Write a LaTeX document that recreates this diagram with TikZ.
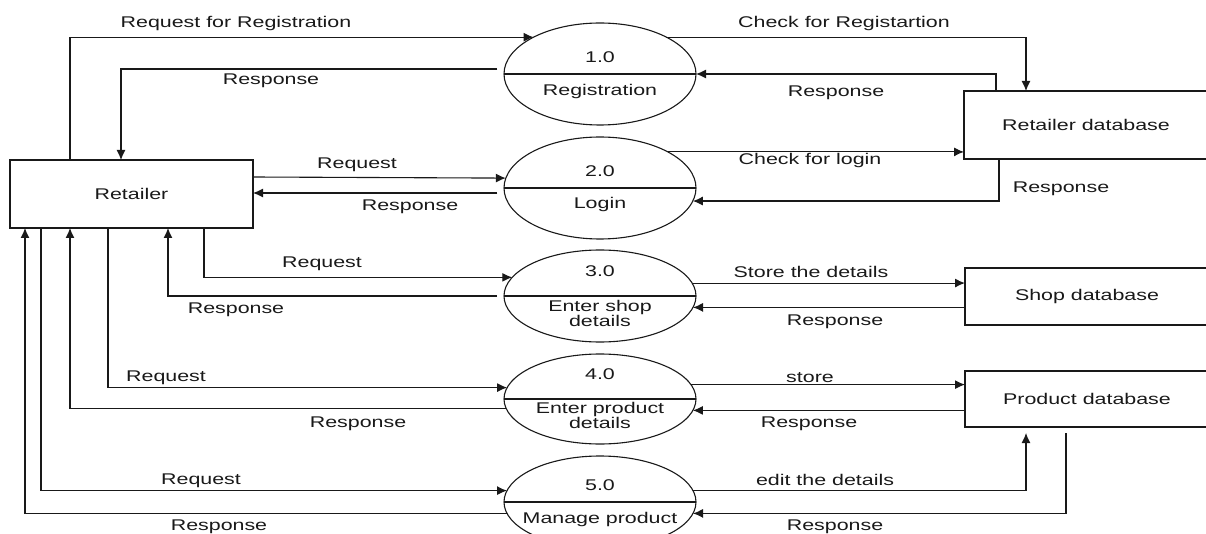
\documentclass[tikz,border=0pt]{standalone}
\usepackage{fontspec}
\setmainfont[FakeStretch=1.38]{Liberation Sans}
\usetikzlibrary{positioning, shapes.geometric, arrows.meta}

\begin{document}
\begin{tikzpicture}[x = 1pt, y = -1pt, font = \fontsize{15.5}{15}\selectfont,
                line width = 1.1pt, color = black!90,
                >= {Latex[length = 10pt, width = 9pt]},
                entity/.style = {shape = rectangle, draw = black!90, minimum width = 244pt, inner sep = 0pt, outer sep = 0pt},
                process/.style = {shape = ellipse, draw = black!90, minimum width = 192pt, inner sep = 0pt, outer sep = 0pt,
                    path picture = {\draw (path picture bounding box.west) -- (path picture bounding box.east);}},
                flow/.style = {anchor = base}]
                \useasboundingbox (0, 0) rectangle (1206, 534);
                \clip (0, 0) rectangle (1206, 534);

                \node [entity, minimum width = 243pt, minimum height = 68pt] (retailer) at (131.5, 194) {Retailer};
                \node [entity, minimum height = 68pt] (rdb) at (1086, 125) {Retailer database};
                \node [entity, minimum height = 57pt] (sdb) at (1087, 296.5) {Shop database};
                \node [entity, minimum height = 56pt] (pdb) at (1087, 399) {Product database};

                \node [process, minimum height = 102pt] (p1) at (600, 74) {};
                \node [process, minimum height = 102pt] (p2) at (600, 188) {};
                \node [process, minimum height = 92pt] (p3) at (600, 296) {};
                \node [process, minimum height = 90pt] (p4) at (600, 399) {};
                \node [process, minimum height = 92pt] (p5) at (600, 502) {};

                \node [flow] (n1) at (600, 63) {1.0};
                \node [flow] (t1) at (600, 96) {Registration};
                \node [flow] (n2) at (600, 177) {2.0};
                \node [flow] (t2) at (600, 209) {Login};
                \node [flow] (n3) at (600, 277) {3.0};
                \node [flow, align = center] (t3) at (600, 326) {Enter shop\\details};
                \node [flow] (n4) at (600, 379) {4.0};
                \node [flow, align = center] (t4) at (600, 428) {Enter product\\details};
                \node [flow] (n5) at (600, 490) {5.0};
                \node [flow] (t5) at (600, 523) {Manage product};

                \draw [->] ([xshift = 60pt]retailer.north west) |- (p1.151);
                \draw [->] ([xshift = -7pt]p1.177) -| ([xshift = 111pt]retailer.north west);
                \draw [->] (p1.29) -| ([xshift = 62pt]rdb.north west);
                \draw [->] ([xshift = 32pt]rdb.north west) |- (p1.east);

                \draw [->] ([yshift = 17pt]retailer.east) -- (p2.174);
                \draw [->] ([xshift = -7pt]p2.183) -- (retailer.east |- p2.183);
                \draw [->] (p2.28) -- (rdb.west |- p2.28);
                \draw [->] ([xshift = 35pt]rdb.south west) |- (p2.-8);

                \draw [->] ([xshift = 194pt]retailer.south west) |- (p3.168);
                \draw [->] ([xshift = -7pt]p3.west) -| ([xshift = 158pt]retailer.south west);
                \draw [->] (p3.8) -- (sdb.west |- p3.8);
                \draw [->] (sdb.west |- p3.-7) -- (p3.-7);

                \draw [->] ([xshift = 98pt]retailer.south west) |- (p4.173);
                \draw [->] (p4.186) -| ([xshift = 60pt]retailer.south west);
                \draw [->] (p4.9) -- (pdb.west |- p4.9);
                \draw [->] (pdb.west |- p4.-7) -- (p4.-7);

                \draw [->] ([xshift = 31pt]retailer.south west) |- (p5.173);
                \draw [->] (p5.187) -| ([xshift = 15pt]retailer.south west);
                \draw [->] (p5.7) -| ([xshift = 61pt, yshift = -6pt]pdb.south west);
                \draw [->] ([xshift = 101pt, yshift = -6pt]pdb.south west) |- (p5.-7);

                \node [flow] (q1) at (236, 28) {Request for Registration};
                \node [flow] (r1) at (271, 85) {Response};
                \node [flow] (c1) at (844, 28) {Check for Registartion};
                \node [flow] (r1b) at (836, 97) {Response};
                \node [flow] (q2) at (357, 169) {Request};
                \node [flow] (r2) at (410, 211) {Response};
                \node [flow] (c2) at (810, 165) {Check for login};
                \node [flow] (r2b) at (1061, 193) {Response};
                \node [flow] (q3) at (322, 268) {Request};
                \node [flow] (r3) at (236, 313) {Response};
                \node [flow] (s3) at (811, 278) {Store the details};
                \node [flow] (r3b) at (835, 325) {Response};
                \node [flow] (q4) at (166, 381) {Request};
                \node [flow] (r4) at (358, 427) {Response};
                \node [flow] (s4) at (810, 382) {store};
                \node [flow] (r4b) at (809, 427) {Response};
                \node [flow] (q5) at (201, 484) {Request};
                \node [flow] (r5) at (219, 530) {Response};
                \node [flow] (e5) at (825, 485) {edit the details};
                \node [flow] (r5b) at (835, 530) {Response};
            \end{tikzpicture}
\end{document}
